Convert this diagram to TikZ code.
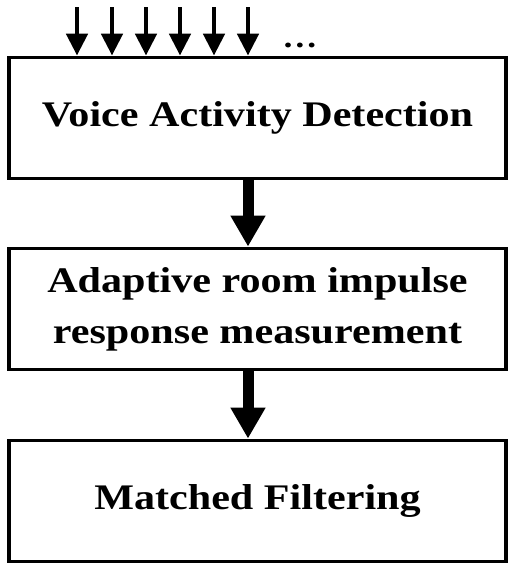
\documentclass[tikz,border=0pt]{standalone}
\usepackage{fontspec}
\setmainfont[FakeStretch=1.17]{Liberation Serif}
\usetikzlibrary{arrows.meta}
\tikzset{
  blockbox/.style={draw, line width=3.8pt, minimum width=497pt, minimum height=121pt, inner sep=0pt, align=center, font=\fontsize{36}{51}\selectfont\bfseries},
  bigarrow/.style={line width=11pt, -{Triangle[width=33pt,length=31pt]}},
  smallarrow/.style={line width=4.8pt, -{Triangle[width=21pt,length=22pt]}}
}
\begin{document}
\begin{tikzpicture}[x=1pt,y=-1pt]
\useasboundingbox (0,0) rectangle (509,563);
\node[blockbox] (b1) at (257.5,118) {Voice Activity Detection};
\node[blockbox] (b2) at (257.5,309) {Adaptive room impulse\\response measurement};
\node[blockbox] (b3) at (257.5,501) {Matched Filtering};
\foreach \i/\xx in {1/77,2/112,3/146,4/180,5/214,6/248}{
  \coordinate (in\i) at (\xx,7);
  \draw[smallarrow] (in\i) -- (in\i |- b1.north);
}
\node[font=\fontsize{30}{36}\selectfont\bfseries, inner sep=0pt] (dots) at (300,45) {\dots};
\draw[bigarrow] (b1.south -| 248,0) -- (b2.north -| 248,0);
\draw[bigarrow] (b2.south -| 248,0) -- (b3.north -| 248,0);
\end{tikzpicture}
\end{document}
